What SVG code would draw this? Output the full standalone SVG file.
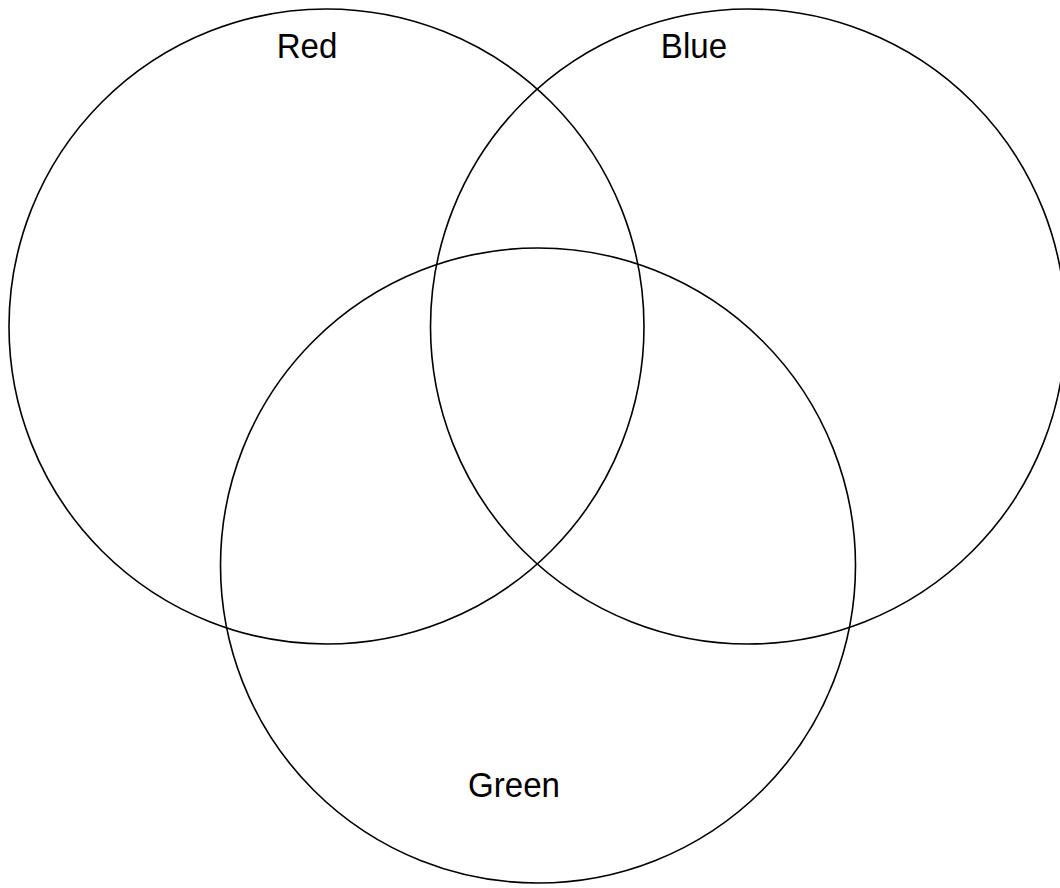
<svg xmlns="http://www.w3.org/2000/svg" width="1060" height="888" viewBox="0 0 1060 888">
<style>
circle{fill:none;stroke:#000;stroke-width:1.6}
text{font-family:"Liberation Sans",Arial,sans-serif;font-size:36px;fill:#000;text-anchor:middle}
</style>
<rect width="1060" height="888" fill="#fff"/>
<g id="red"><circle cx="326.5" cy="326.5" r="317.5"/><text transform="translate(307 58) scale(0.92 1)">Red</text></g>
<g id="blue"><circle cx="748" cy="326.5" r="317.5"/><text transform="translate(694 58) scale(0.92 1)">Blue</text></g>
<g id="green"><circle cx="538" cy="565.5" r="317.5"/><text transform="translate(514 797) scale(0.92 1)">Green</text></g>
</svg>
